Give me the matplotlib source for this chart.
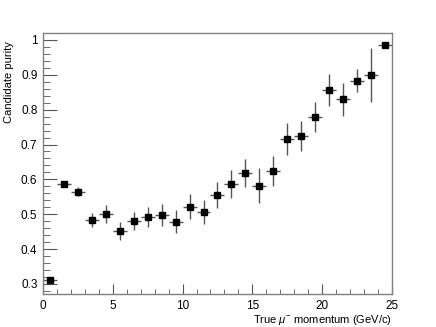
import matplotlib
matplotlib.use("Agg")
import matplotlib.pyplot as plt
from matplotlib.ticker import MultipleLocator

plt.rcParams['font.family'] = ['Liberation Sans', 'DejaVu Sans']
plt.rcParams['mathtext.fontset'] = 'custom'
plt.rcParams['mathtext.rm'] = 'Liberation Sans'
plt.rcParams['mathtext.it'] = 'Liberation Sans:italic'

# bin centres (GeV/c), bin half width, purity and its error
momentum = [0.5, 1.5, 2.5, 3.5, 4.5, 5.5, 6.5, 7.5, 8.5, 9.5, 10.5, 11.5, 12.5,
            13.5, 14.5, 15.5, 16.5, 17.5, 18.5, 19.5, 20.5, 21.5, 22.5, 23.5, 24.5]
half_width = [0.5] * 25
purity = [0.310, 0.588, 0.565, 0.483, 0.500, 0.452, 0.480, 0.492, 0.498, 0.478,
          0.521, 0.506, 0.555, 0.587, 0.617, 0.582, 0.625, 0.715, 0.724, 0.779,
          0.856, 0.830, 0.883, 0.899, 0.986]
purity_err = [0.005, 0.005, 0.014, 0.021, 0.025, 0.026, 0.026, 0.030, 0.032, 0.033,
              0.036, 0.034, 0.036, 0.040, 0.040, 0.050, 0.043, 0.046, 0.043, 0.044,
              0.046, 0.047, 0.033, 0.078, 0.005]

fig = plt.figure(figsize=(4.36, 3.27), dpi=100)
ax = fig.add_axes([0.0986, 0.101, 0.8004, 0.797])

ax.errorbar(momentum, purity, xerr=half_width, yerr=purity_err, fmt='s',
            color='black', ecolor='#555555', elinewidth=1.0, capsize=0,
            markersize=4.5)

ax.set_xlim(0, 25)
ax.set_ylim(0.271, 1.019)
ax.xaxis.set_major_locator(MultipleLocator(5))
ax.xaxis.set_minor_locator(MultipleLocator(1))
ax.yaxis.set_minor_locator(MultipleLocator(0.02))
ax.set_yticks([0.3, 0.4, 0.5, 0.6, 0.7, 0.8, 0.9, 1.0])
ax.set_yticklabels(['0.3', '0.4', '0.5', '0.6', '0.7', '0.8', '0.9', '1'])

for s in ax.spines.values():
    s.set_color('#808080')
    s.set_linewidth(1.0)

ax.tick_params(axis='both', which='both', direction='in', colors='#555555',
               labelcolor='black', labelsize=8.5)
ax.tick_params(axis='x', which='major', length=7, pad=4)
ax.tick_params(axis='x', which='minor', length=3.5)
ax.tick_params(axis='y', which='major', length=10, pad=4)
ax.tick_params(axis='y', which='minor', length=5)

ax.set_xlabel(r'True $\mu^{-}$ momentum (GeV/c)', fontsize=8, ha='right', x=1.0,
              labelpad=1)
ax.set_ylabel('Candidate purity', fontsize=8, ha='right', y=0.97, labelpad=5)

fig.savefig('out.png', dpi=100)
